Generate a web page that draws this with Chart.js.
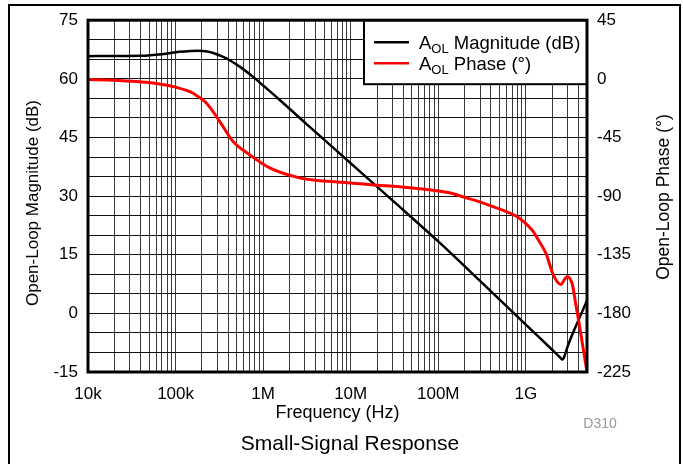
<!DOCTYPE html>
<html>
<head>
<meta charset="utf-8">
<script src="https://cdn.jsdelivr.net/npm/chart.js@4.4.1/dist/chart.umd.min.js"></script>
<style>
  body { margin: 0; background: #fff; }
  #wrap { position: relative; width: 683px; height: 464px; }
</style>
</head>
<body>
<div id="wrap"><canvas id="myChart" width="683" height="464"></canvas></div>
<script>
// Open-loop magnitude (Hz, dB)
const magFreq = [1e4, 2e4, 4e4, 7e4, 1.1e5, 1.5e5, 1.8e5, 2.3e5, 2.7e5, 3.5e5, 4.2e5, 5.5e5, 7.7e5,
    1e6, 1.55e6, 3e6, 1e7, 3e7, 1e8, 3e8, 1e9, 2e9, 2.45e9, 2.63e9, 2.78e9, 3e9, 4e9, 5e9];
const magDb = [65.8, 65.85, 65.9, 66.3, 66.9, 67.15, 67.2, 67.0, 66.6, 65.6, 64.7, 63.0, 60.5,
    58.3, 54.6, 48.8, 38.4, 28.9, 18.4, 8.3, -2.9, -9.3, -11.2, -11.8, -10.8, -8.5, -1.7, 3.3];

// Open-loop phase (Hz, degrees)
const phaseFreq = [1e4, 2e4, 3.9e4, 6e4, 8.6e4, 1.46e5, 1.8e5, 2.26e5, 3.2e5, 4.54e5, 7e5, 1.19e6,
    2.6e6, 5e6, 9.7e6, 1.96e7, 3.6e7, 1.34e8, 2.08e8, 2.7e8, 3.84e8, 7.7e8, 9.2e8, 1.2e9, 1.43e9,
    1.7e9, 2.02e9, 2.3e9, 2.51e9, 2.8e9, 2.99e9, 3.2e9, 3.41e9, 3.7e9, 4.07e9, 4.5e9, 5e9];
const phaseDeg = [-0.6, -1.0, -2.3, -3.5, -5.3, -9.9, -13.5, -18.8, -32.8, -48.1, -58.2, -68.4,
    -76, -78.5, -79.9, -81.6, -82.9, -87.5, -91.3, -93.5, -97.1, -105.3, -109, -116.7, -125,
    -134, -149, -156, -157.9, -153.5, -151.8, -153.5, -158, -172, -188, -206, -225];

const xTickValues = [1e4, 1e5, 1e6, 1e7, 1e8, 1e9];
const xTickLabels = ['10k', '100k', '1M', '10M', '100M', '1G'];
const magTicks = [-15, 0, 15, 30, 45, 60, 75];
const phaseTicks = [-225, -180, -135, -90, -45, 0, 45];

const xMin = 1e4, xMax = 5e9;

// gridlines at every 1..9 multiple of each decade
const xGrid = [];
for (let d = 1e4; d < xMax; d *= 10) {
    for (let m = 1; m <= 9; m++) {
        if (d * m <= xMax) xGrid.push(d * m);
    }
}
// horizontal gridlines every 5 dB
const yGrid = [];
for (let v = magTicks[0]; v <= magTicks[magTicks.length - 1]; v += 5) yGrid.push(v);

const FONT = '"Liberation Sans", Arial, sans-serif';
Chart.defaults.font.family = FONT;
Chart.defaults.color = '#000';

function verticalText(ctx, text, x, y, size) {
    ctx.save();
    ctx.translate(x, y);
    ctx.rotate(-Math.PI / 2);
    ctx.font = size + 'px ' + FONT;
    ctx.textAlign = 'center';
    ctx.textBaseline = 'middle';
    ctx.fillStyle = '#000';
    ctx.fillText(text, 0, 0);
    ctx.restore();
}

const extras = {
    id: 'extras',
    afterDraw(chart) {
        const ctx = chart.ctx;
        const a = chart.chartArea;
        ctx.save();

        // page frame
        ctx.strokeStyle = '#000';
        ctx.lineWidth = 2;
        ctx.beginPath();
        ctx.moveTo(9, 464);
        ctx.lineTo(9, 5);
        ctx.lineTo(680, 5);
        ctx.lineTo(680, 464);
        ctx.stroke();

        // legend box in the top right corner
        const lx = a.right - 223, ly = a.top, lw = 223, lh = 64;
        ctx.fillStyle = '#fff';
        ctx.fillRect(lx, ly, lw, lh);
        ctx.lineWidth = 2;
        ctx.strokeRect(lx, ly, lw, lh);

        const rows = [
            { color: '#000', rest: ' Magnitude (dB)', y: 22 },
            { color: '#f00', rest: ' Phase (\u00b0)', y: 43 }
        ];
        rows.forEach(function (r) {
            ctx.strokeStyle = r.color;
            ctx.lineWidth = 2.5;
            ctx.beginPath();
            ctx.moveTo(lx + 10, ly + r.y);
            ctx.lineTo(lx + 45, ly + r.y);
            ctx.stroke();

            ctx.fillStyle = '#000';
            ctx.textBaseline = 'alphabetic';
            ctx.textAlign = 'left';
            let tx = lx + 55;
            const base = ly + r.y + 7;
            ctx.font = '18.5px ' + FONT;
            ctx.fillText('A', tx, base);
            tx += ctx.measureText('A').width;
            ctx.font = '13px ' + FONT;
            ctx.fillText('OL', tx, base + 4);
            tx += ctx.measureText('OL').width;
            ctx.font = '18.5px ' + FONT;
            ctx.fillText(r.rest, tx, base);
        });

        // plot border
        ctx.strokeStyle = '#000';
        ctx.lineWidth = 3;
        ctx.strokeRect(a.left, a.top, a.right - a.left, a.bottom - a.top);

        // axis titles, both reading bottom to top
        verticalText(ctx, 'Open-Loop Magnitude (dB)', 33, 203, 17);
        verticalText(ctx, 'Open-Loop Phase (\u00b0)', 664, 197, 17.5);

        // caption and figure id
        ctx.font = '21px ' + FONT;
        ctx.textAlign = 'center';
        ctx.textBaseline = 'middle';
        ctx.fillStyle = '#000';
        ctx.fillText('Small-Signal Response', 350, 444);

        ctx.font = '14px ' + FONT;
        ctx.fillStyle = '#999';
        ctx.fillText('D310', 600, 424);

        ctx.restore();
    }
};

var ctx = document.getElementById('myChart').getContext('2d');
var myChart = new Chart(ctx, {
    type: 'line',
    data: {
        datasets: [{
            label: 'AOL Magnitude (dB)',
            data: magFreq.map(function (f, i) { return { x: f, y: magDb[i] }; }),
            borderColor: '#000',
            borderWidth: 2.5,
            yAxisID: 'y',
            order: 2
        }, {
            label: 'AOL Phase (\u00b0)',
            data: phaseFreq.map(function (f, i) { return { x: f, y: phaseDeg[i] }; }),
            borderColor: '#f00',
            borderWidth: 3,
            yAxisID: 'y2',
            order: 1
        }]
    },
    options: {
        responsive: false,
        animation: false,
        layout: { padding: { top: 18, left: 0, right: 0, bottom: 0 } },
        elements: {
            point: { radius: 0 },
            line: { cubicInterpolationMode: 'monotone', fill: false }
        },
        plugins: {
            legend: { display: false },
            tooltip: { enabled: false }
        },
        scales: {
            x: {
                type: 'logarithmic',
                position: 'bottom',
                min: xMin,
                max: xMax,
                afterBuildTicks: function (s) {
                    s.ticks = xGrid.map(function (v) { return { value: v }; });
                },
                afterFit: function (s) { s.height = 92; },
                ticks: {
                    autoSkip: false,
                    maxRotation: 0,
                    padding: 12,
                    font: { size: 17 },
                    callback: function (v) {
                        const i = xTickValues.findIndex(function (t) { return Math.abs(t - v) / t < 1e-6; });
                        return i >= 0 ? xTickLabels[i] : '';
                    }
                },
                grid: { color: '#3a3a3a', lineWidth: 1, drawTicks: false },
                border: { display: false },
                title: {
                    display: true,
                    text: 'Frequency (Hz)',
                    font: { size: 18 },
                    padding: { top: 0, bottom: 40 }
                }
            },
            y: {
                type: 'linear',
                position: 'left',
                min: magTicks[0],
                max: magTicks[magTicks.length - 1],
                afterBuildTicks: function (s) {
                    s.ticks = yGrid.map(function (v) { return { value: v }; });
                },
                afterFit: function (s) { s.width = 88; },
                ticks: {
                    autoSkip: false,
                    padding: 10,
                    font: { size: 17 },
                    callback: function (v) { return magTicks.indexOf(v) >= 0 ? String(v) : ''; }
                },
                grid: { color: '#111', lineWidth: 1, drawTicks: false },
                border: { display: false }
            },
            y2: {
                type: 'linear',
                position: 'right',
                min: phaseTicks[0],
                max: phaseTicks[phaseTicks.length - 1],
                afterBuildTicks: function (s) {
                    s.ticks = phaseTicks.map(function (v) { return { value: v }; });
                },
                afterFit: function (s) { s.width = 96; },
                ticks: {
                    autoSkip: false,
                    padding: 10,
                    font: { size: 17 },
                    callback: function (v) { return String(v); }
                },
                grid: { display: false, drawTicks: false },
                border: { display: false }
            }
        }
    },
    plugins: [extras]
});
</script>
</body>
</html>
